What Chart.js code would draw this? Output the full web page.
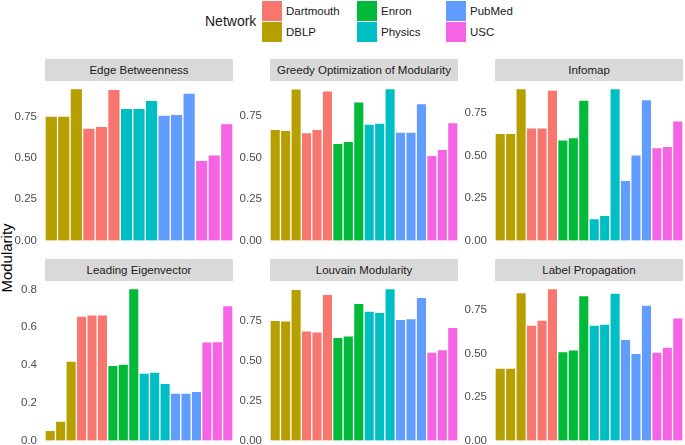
<!DOCTYPE html>
<html>
<head>
<meta charset="utf-8">
<script src="https://cdn.jsdelivr.net/npm/chart.js@4"></script>
<style>
  body { margin: 0; background: #fff; font-family: "Liberation Sans", Arial, sans-serif; }
  #wrap { position: relative; width: 685px; height: 445px; overflow: hidden; }
  .panel { position: absolute; }
  .strip { position: absolute; height: 22px; line-height: 22px; background: #d9d9d9; color: #1a1a1a; font-size: 11.5px; text-align: center; white-space: nowrap; }
  .swatch { position: absolute; width: 20px; height: 20px; }
  .key { position: absolute; font-size: 11.5px; color: #1a1a1a; line-height: 20px; }
  #legendTitle { position: absolute; left: 205px; top: 13px; font-size: 14px; color: #1a1a1a; }
  #yTitle { position: absolute; left: 6px; top: 258px; font-size: 15px; color: #000; transform: translate(-50%, -50%) rotate(-90deg); white-space: nowrap; }
</style>
</head>
<body>
<div id="wrap">
  <div id="legendTitle">Network</div>
  <div id="yTitle">Modularity</div>
</div>
<script>
// networks and the order of the bars in each panel
const networks = ['Dartmouth', 'DBLP', 'Enron', 'Physics', 'PubMed', 'USC'];
const barOrder = ['DBLP', 'Dartmouth', 'Enron', 'Physics', 'PubMed', 'USC'];
const runs = ['1', '2', '3'];

const panelTitles = ['Edge Betweenness', 'Greedy Optimization of Modularity', 'Infomap',
  'Leading Eigenvector', 'Louvain Modularity', 'Label Propagation'];

// modularity values, three runs per network (Edge Betweenness has no Enron)
const edgeBetweenness = [0.752, 0.752, 0.918, 0.679, 0.690, 0.913, 0.798, 0.798, 0.847, 0.758, 0.762, 0.891, 0.484, 0.518, 0.706];
const greedyOpt = [0.671, 0.665, 0.915, 0.651, 0.671, 0.903, 0.587, 0.599, 0.837, 0.702, 0.708, 0.917, 0.655, 0.655, 0.827, 0.514, 0.550, 0.712];
const infomap = [0.630, 0.630, 0.893, 0.662, 0.662, 0.884, 0.591, 0.605, 0.825, 0.128, 0.147, 0.893, 0.353, 0.503, 0.829, 0.546, 0.554, 0.703];
const leadingEigen = [0.053, 0.102, 0.420, 0.659, 0.665, 0.665, 0.397, 0.404, 0.804, 0.357, 0.362, 0.302, 0.251, 0.251, 0.260, 0.522, 0.524, 0.714];
const louvain = [0.756, 0.752, 0.950, 0.689, 0.683, 0.919, 0.648, 0.658, 0.863, 0.813, 0.806, 0.955, 0.762, 0.767, 0.900, 0.556, 0.572, 0.712];
const labelProp = [0.417, 0.417, 0.851, 0.664, 0.693, 0.874, 0.511, 0.522, 0.834, 0.664, 0.670, 0.848, 0.582, 0.501, 0.779, 0.509, 0.538, 0.706];

// y tick labels
const ticksQuarter = [0, 0.25, 0.5, 0.75];
const ticksFifth = [0, 0.2, 0.4, 0.6, 0.8];

const colors = {
  Dartmouth: '#F8766D', DBLP: '#B79F00', Enron: '#00BA38',
  Physics: '#00BFC4', PubMed: '#619CFF', USC: '#F564E3'
};

const wrap = document.getElementById('wrap');

// legend, two rows by three columns
const legendX = [262, 357, 446];
networks.forEach(function (name, i) {
  const x = legendX[Math.floor(i / 2)];
  const y = 1 + (i % 2) * 21;
  const sw = document.createElement('div');
  sw.className = 'swatch';
  sw.style.left = x + 'px';
  sw.style.top = y + 'px';
  sw.style.background = colors[name];
  wrap.appendChild(sw);
  const key = document.createElement('div');
  key.className = 'key';
  key.style.left = (x + 24) + 'px';
  key.style.top = y + 'px';
  key.textContent = name;
  wrap.appendChild(key);
});

function makeLabels(nets) {
  const out = [];
  nets.forEach(n => runs.forEach(r => out.push(n + ' ' + r)));
  return out;
}

const panels = [
  { values: edgeBetweenness, nets: barOrder.filter(n => n !== 'Enron'), ticks: ticksQuarter, digits: 2 },
  { values: greedyOpt, nets: barOrder, ticks: ticksQuarter, digits: 2 },
  { values: infomap, nets: barOrder, ticks: ticksQuarter, digits: 2 },
  { values: leadingEigen, nets: barOrder, ticks: ticksFifth, digits: 1 },
  { values: louvain, nets: barOrder, ticks: ticksQuarter, digits: 2 },
  { values: labelProp, nets: barOrder, ticks: ticksQuarter, digits: 2 }
];

const colLeft = [45, 270, 495];
const rowTop = [81, 281];
// pad is bigger than the label overflow chart.js asks for, so the plot area lands exactly
const plotW = 188, plotH = 167, axisW = 40, pad = 20;

panels.forEach(function (p, i) {
  const left = colLeft[i % 3];
  const top = rowTop[Math.floor(i / 3)];

  const strip = document.createElement('div');
  strip.className = 'strip';
  strip.style.left = left + 'px';
  strip.style.top = (top - 22) + 'px';
  strip.style.width = plotW + 'px';
  strip.textContent = panelTitles[i];
  wrap.appendChild(strip);

  const box = document.createElement('div');
  box.className = 'panel';
  box.style.left = (left - axisW) + 'px';
  box.style.top = (top - pad) + 'px';
  box.style.width = (plotW + axisW) + 'px';
  box.style.height = (plotH + 2 * pad) + 'px';
  const canvas = document.createElement('canvas');
  box.appendChild(canvas);
  wrap.appendChild(box);

  const labels = makeLabels(p.nets);
  const barColors = labels.map(l => colors[l.split(' ')[0]]);
  const vmax = Math.max.apply(null, p.values);

  new Chart(canvas.getContext('2d'), {
    type: 'bar',
    data: {
      labels: labels,
      datasets: [{
        data: p.values,
        backgroundColor: barColors,
        borderColor: '#ffffff',
        borderWidth: 1,
        categoryPercentage: 1,
        barPercentage: 1
      }]
    },
    options: {
      responsive: true,
      maintainAspectRatio: false,
      animation: false,
      layout: { padding: { top: pad, bottom: pad, left: 0, right: 0 } },
      plugins: { legend: { display: false }, tooltip: { enabled: false } },
      scales: {
        x: { display: false },
        y: {
          min: -0.05 * vmax,
          max: 1.05 * vmax,
          grid: { display: false, drawTicks: false },
          border: { display: false },
          afterBuildTicks: function (scale) {
            scale.ticks = p.ticks.map(v => ({ value: v }));
          },
          afterFit: function (scale) {
            scale.width = axisW;
          },
          ticks: {
            padding: 8,
            color: '#4d4d4d',
            font: { family: "'Liberation Sans', Arial, sans-serif", size: 11.5 },
            callback: function (v) { return Number(v).toFixed(p.digits); }
          }
        }
      }
    }
  });
});
</script>
</body>
</html>
